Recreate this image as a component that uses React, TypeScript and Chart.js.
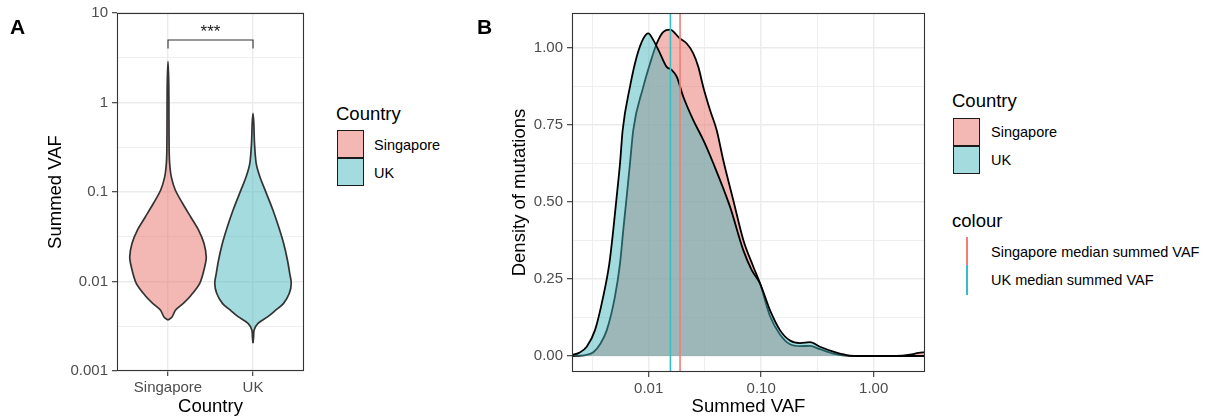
import React, { useEffect, useRef } from "react";
import { Chart, registerables } from "chart.js";

Chart.register(...registerables);

const FONT = '"Liberation Sans", Arial, Helvetica, sans-serif';

// ---------------- data ----------------
const countries = ["Singapore", "UK"];

// Panel A: violin profiles (summed VAF, relative density width 0..1)
const sgViolinVAF = [0.00372, 0.00398, 0.00481, 0.0057, 0.00676, 0.00955, 0.01462, 0.01892, 0.02673, 0.03758, 0.05297, 0.07482, 0.1052, 0.1483, 0.2094, 0.2944, 0.631, 1.585, 2.858];
const sgViolinDensity = [0, 0.1, 0.2, 0.4, 0.57, 0.83, 0.96, 1.0, 0.94, 0.8, 0.59, 0.38, 0.19, 0.085, 0.043, 0.03, 0.025, 0.02, 0];
const ukViolinVAF = [0.00204, 0.0024, 0.00287, 0.00341, 0.00405, 0.00481, 0.0057, 0.00738, 0.00955, 0.01233, 0.01738, 0.02673, 0.04093, 0.06295, 0.0966, 0.1483, 0.2094, 0.35, 0.586, 0.757];
const ukViolinDensity = [0, 0.015, 0.03, 0.13, 0.39, 0.6, 0.8, 0.95, 1.0, 0.96, 0.9, 0.8, 0.67, 0.52, 0.35, 0.18, 0.083, 0.039, 0.021, 0];

const violinTickValues = [0.001, 0.01, 0.1, 1, 10];
const violinTickLabels = ["0.001", "0.01", "0.1", "1", "10"];
const vafLimitsA = [0.001, 10];
const bracketVAF = [4, 5];
const sigLabel = "***";

// Panel B: density curves (summed VAF, density)
const sgDensVAF = [0.00208, 0.0025, 0.00275, 0.00322, 0.00372, 0.00424, 0.00501, 0.00556, 0.00594, 0.00637, 0.00682, 0.00729, 0.00895, 0.01028, 0.01178, 0.01349, 0.01545, 0.01897, 0.02178, 0.02489, 0.02761, 0.03055, 0.03508, 0.04018, 0.04603, 0.05649, 0.06934, 0.08511, 0.0975, 0.1197, 0.1469, 0.1803, 0.2213, 0.2716, 0.3334, 0.4375, 0.575, 0.794, 1.585, 2.1, 2.51, 2.86];
const sgDens = [0, 0.001, 0.003, 0.012, 0.04, 0.084, 0.193, 0.301, 0.409, 0.517, 0.626, 0.734, 0.874, 0.95, 1.015, 1.053, 1.06, 1.031, 1.015, 0.983, 0.939, 0.874, 0.799, 0.734, 0.636, 0.506, 0.377, 0.29, 0.236, 0.13, 0.07, 0.038, 0.032, 0.033, 0.022, 0.008, 0.001, 0, 0, 0.004, 0.01, 0.012];
const ukDensVAF = [0.00208, 0.0024, 0.00281, 0.00333, 0.00394, 0.00447, 0.00484, 0.00519, 0.00556, 0.00587, 0.00681, 0.00782, 0.00895, 0.00991, 0.011, 0.0126, 0.01445, 0.016, 0.01774, 0.0203, 0.0249, 0.0306, 0.0375, 0.0528, 0.0693, 0.0824, 0.0975, 0.1197, 0.1469, 0.1803, 0.2213, 0.2716, 0.3334, 0.4375, 0.575, 0.794, 2.86];
const ukDens = [0.003, 0.01, 0.03, 0.084, 0.193, 0.301, 0.409, 0.517, 0.626, 0.734, 0.874, 0.972, 1.031, 1.048, 1.026, 0.983, 0.939, 0.929, 0.907, 0.842, 0.766, 0.701, 0.626, 0.485, 0.344, 0.279, 0.236, 0.149, 0.084, 0.05, 0.042, 0.045, 0.03, 0.014, 0.003, 0, 0];

const medianVAF = [0.019, 0.0156];
const medianLabels = ["Singapore median summed VAF", "UK median summed VAF"];

const densityXTickValues = [0.01, 0.1, 1];
const densityXTickLabels = ["0.01", "0.10", "1.00"];
const densityYTickValues = [0, 0.25, 0.5, 0.75, 1];
const densityYTickLabels = ["0.00", "0.25", "0.50", "0.75", "1.00"];
const vafLimitsB = [0.00208, 2.86];
const densityLimits = [-0.052, 1.114];

// ---------------- styles ----------------
const SG_FILL = "rgba(232,114,106,0.5)";
const UK_FILL = "rgba(72,184,190,0.5)";
const SG_LINE = "#F07F76";
const UK_LINE = "#35BEC3";
const VIOLIN_HALF = 0.45;

const near = (a: number, b: number) => Math.abs(a - b) <= 1e-9 * Math.max(1, Math.abs(b));
const isMajor = (v: number, majors: number[]) => majors.some((m) => near(v, m));

function logTicksWithMinor(majors: number[], lim: number[]) {
  const step = Math.sqrt(majors[1] / majors[0]);
  const out: number[] = [majors[0] / step];
  majors.forEach((m, i) => {
    out.push(m);
    out.push(i < majors.length - 1 ? Math.sqrt(m * majors[i + 1]) : m * step);
  });
  return out.filter((v) => v >= lim[0] * (1 - 1e-9) && v <= lim[1] * (1 + 1e-9));
}
function linTicksWithMinor(majors: number[], lim: number[]) {
  const half = (majors[1] - majors[0]) / 2;
  const out: number[] = [majors[0] - half];
  majors.forEach((m) => {
    out.push(m);
    out.push(m + half);
  });
  return out.filter((v) => v >= lim[0] - 1e-9 && v <= lim[1] + 1e-9);
}

function gridFor(majors: number[]) {
  return {
    color: "#EBEBEB",
    lineWidth: (c: any) => (c.tick && isMajor(c.tick.value, majors) ? 1.4 : 0.8),
    tickColor: (c: any) => (c.tick && isMajor(c.tick.value, majors) ? "#333333" : "rgba(0,0,0,0)"),
    tickWidth: 1.1,
    tickLength: 5,
    drawTicks: true,
  };
}

function labelFor(majors: number[], labels: string[]) {
  return (v: any) => {
    const i = majors.findIndex((m) => near(Number(v), m));
    return i >= 0 ? labels[i] : "";
  };
}

function violinPolygon(center: number, vaf: number[], dens: number[]) {
  const right = vaf.map((v, i) => ({ x: center + dens[i] * VIOLIN_HALF, y: v }));
  const left = vaf.map((v, i) => ({ x: center - dens[i] * VIOLIN_HALF, y: v })).reverse();
  return [...right, ...left.slice(1)];
}

const panelBorder = {
  id: "panelBorder",
  afterDatasetsDraw(chart: any) {
    const { ctx, chartArea: a } = chart;
    ctx.save();
    ctx.strokeStyle = "#333333";
    ctx.lineWidth = 1.1;
    ctx.strokeRect(a.left + 0.5, a.top + 0.5, a.right - a.left - 1, a.bottom - a.top - 1);
    ctx.restore();
  },
};

const sigText = {
  id: "sigText",
  afterDatasetsDraw(chart: any) {
    const { ctx, scales } = chart;
    const px = scales.x.getPixelForValue(1.5);
    const py = scales.y.getPixelForValue(bracketVAF[1]);
    ctx.save();
    ctx.font = `17px ${FONT}`;
    ctx.fillStyle = "#1A1A1A";
    ctx.textAlign = "center";
    ctx.textBaseline = "alphabetic";
    ctx.fillText(sigLabel, px, py - 3);
    ctx.restore();
  },
};

const tickFont = { family: FONT, size: 15 };
const titleFont = { family: FONT, size: 18.5 };

export default function App() {
  const refA = useRef<HTMLCanvasElement>(null);
  const refB = useRef<HTMLCanvasElement>(null);

  useEffect(() => {
    const majorsA = violinTickValues;
    const chartA = new Chart(refA.current as HTMLCanvasElement, {
      type: "line",
      data: {
        datasets: [
          {
            label: "bracket",
            data: [
              { x: 1, y: bracketVAF[0] },
              { x: 1, y: bracketVAF[1] },
              { x: 2, y: bracketVAF[1] },
              { x: 2, y: bracketVAF[0] },
            ],
            borderColor: "#333333",
            borderWidth: 1.1,
            pointRadius: 0,
            fill: false,
            tension: 0,
          },
          {
            label: countries[1],
            data: violinPolygon(2, ukViolinVAF, ukViolinDensity),
            borderColor: "#333333",
            borderWidth: 1.7,
            backgroundColor: UK_FILL,
            fill: "shape",
            pointRadius: 0,
            tension: 0.3,
          },
          {
            label: countries[0],
            data: violinPolygon(1, sgViolinVAF, sgViolinDensity),
            borderColor: "#333333",
            borderWidth: 1.7,
            backgroundColor: SG_FILL,
            fill: "shape",
            pointRadius: 0,
            tension: 0.3,
          },
        ],
      } as any,
      options: {
        responsive: false,
        animation: false,
        devicePixelRatio: 1,
        events: [],
        layout: { padding: { top: 13, right: 8, bottom: 0, left: 0 } },
        plugins: { legend: { display: false }, tooltip: { enabled: false } },
        scales: {
          x: {
            type: "linear",
            min: 0.4,
            max: 2.6,
            afterBuildTicks: (s: any) => {
              s.ticks = countries.map((_, i) => ({ value: i + 1 }));
            },
            afterFit: (s: any) => {
              s.height = 47;
            },
            ticks: {
              callback: (v: any) => countries[Math.round(Number(v)) - 1] ?? "",
              color: "#4D4D4D",
              font: tickFont,
              padding: 3,
              autoSkip: false,
              maxRotation: 0,
            },
            grid: gridFor([1, 2]),
            border: { display: false },
            title: { display: true, text: "Country", color: "#000000", font: titleFont, padding: { top: 0, bottom: 0 } },
          },
          y: {
            type: "logarithmic",
            min: vafLimitsA[0],
            max: vafLimitsA[1],
            afterBuildTicks: (s: any) => {
              s.ticks = logTicksWithMinor(majorsA, vafLimitsA).map((v) => ({ value: v }));
            },
            afterFit: (s: any) => {
              s.width = 117;
            },
            ticks: {
              callback: labelFor(majorsA, violinTickLabels),
              color: "#4D4D4D",
              font: tickFont,
              padding: 4,
              autoSkip: false,
            },
            grid: gridFor(majorsA),
            border: { display: false },
            title: { display: true, text: "Summed VAF", color: "#000000", font: titleFont, padding: { top: 45, bottom: 0 } },
          },
        },
      } as any,
      plugins: [panelBorder, sigText],
    });

    const chartB = new Chart(refB.current as HTMLCanvasElement, {
      type: "line",
      data: {
        datasets: [
          {
            label: medianLabels[0],
            data: [
              { x: medianVAF[0], y: densityLimits[0] },
              { x: medianVAF[0], y: densityLimits[1] },
            ],
            borderColor: SG_LINE,
            borderWidth: 1.6,
            pointRadius: 0,
            fill: false,
            tension: 0,
          },
          {
            label: medianLabels[1],
            data: [
              { x: medianVAF[1], y: densityLimits[0] },
              { x: medianVAF[1], y: densityLimits[1] },
            ],
            borderColor: UK_LINE,
            borderWidth: 1.6,
            pointRadius: 0,
            fill: false,
            tension: 0,
          },
          {
            label: countries[1],
            data: ukDensVAF.map((v, i) => ({ x: v, y: ukDens[i] })),
            borderColor: "#000000",
            borderWidth: 1.8,
            backgroundColor: UK_FILL,
            fill: "origin",
            pointRadius: 0,
            cubicInterpolationMode: "monotone",
          },
          {
            label: countries[0],
            data: sgDensVAF.map((v, i) => ({ x: v, y: sgDens[i] })),
            borderColor: "#000000",
            borderWidth: 1.8,
            backgroundColor: SG_FILL,
            fill: "origin",
            pointRadius: 0,
            cubicInterpolationMode: "monotone",
          },
        ],
      } as any,
      options: {
        responsive: false,
        animation: false,
        devicePixelRatio: 1,
        events: [],
        layout: { padding: { top: 13, right: 5, bottom: 0, left: 0 } },
        plugins: { legend: { display: false }, tooltip: { enabled: false } },
        scales: {
          x: {
            type: "logarithmic",
            min: vafLimitsB[0],
            max: vafLimitsB[1],
            afterBuildTicks: (s: any) => {
              s.ticks = logTicksWithMinor(densityXTickValues, vafLimitsB).map((v) => ({ value: v }));
            },
            afterFit: (s: any) => {
              s.height = 46;
            },
            ticks: {
              callback: labelFor(densityXTickValues, densityXTickLabels),
              color: "#4D4D4D",
              font: tickFont,
              padding: 3,
              autoSkip: false,
              maxRotation: 0,
            },
            grid: gridFor(densityXTickValues),
            border: { display: false },
            title: { display: true, text: "Summed VAF", color: "#000000", font: titleFont, padding: { top: 0, bottom: 0 } },
          },
          y: {
            type: "linear",
            min: densityLimits[0],
            max: densityLimits[1],
            afterBuildTicks: (s: any) => {
              s.ticks = linTicksWithMinor(densityYTickValues, densityLimits).map((v) => ({ value: v }));
            },
            afterFit: (s: any) => {
              s.width = 92;
            },
            ticks: {
              callback: labelFor(densityYTickValues, densityYTickLabels),
              color: "#4D4D4D",
              font: tickFont,
              padding: 4,
              autoSkip: false,
            },
            grid: gridFor(densityYTickValues),
            border: { display: false },
            title: { display: true, text: "Density of mutations", color: "#000000", font: titleFont, padding: { top: 29, bottom: 0 } },
          },
        },
      } as any,
      plugins: [panelBorder],
    });

    return () => {
      chartA.destroy();
      chartB.destroy();
    };
  }, []);

  const abs = (s: React.CSSProperties): React.CSSProperties => ({ position: "absolute", whiteSpace: "nowrap", ...s });
  const legTitle: React.CSSProperties = { fontFamily: FONT, fontSize: 18.5, lineHeight: "22px", color: "#000" };
  const legText: React.CSSProperties = { fontFamily: FONT, fontSize: 14.5, lineHeight: "18px", color: "#000" };
  const box = (fill: string): React.CSSProperties => ({
    width: 27,
    height: 28,
    boxSizing: "border-box",
    border: "1.5px solid #1A1A1A",
    background: fill,
  });

  return (
    <div style={{ position: "absolute", left: 0, top: 0, width: 1212, height: 418, background: "#FFFFFF", overflow: "hidden" }}>
      <canvas ref={refA} width={312} height={418} style={abs({ left: 0, top: 0, width: 312, height: 418 })} />
      <canvas ref={refB} width={450} height={418} style={abs({ left: 480, top: 0, width: 450, height: 418 })} />

      <div style={abs({ left: 10, top: 15, fontFamily: FONT, fontWeight: 700, fontSize: 21, lineHeight: "24px" })}>A</div>
      <div style={abs({ left: 477, top: 15, fontFamily: FONT, fontWeight: 700, fontSize: 21, lineHeight: "24px" })}>B</div>

      {/* Legend A */}
      <div style={abs({ left: 336, top: 103, ...legTitle })}>Country</div>
      <div style={abs({ left: 337, top: 130, ...box(SG_FILL) })} />
      <div style={abs({ left: 337, top: 158, ...box(UK_FILL) })} />
      <div style={abs({ left: 374, top: 136, ...legText })}>{countries[0]}</div>
      <div style={abs({ left: 374, top: 164, ...legText })}>{countries[1]}</div>

      {/* Legend B */}
      <div style={abs({ left: 952, top: 90, ...legTitle })}>Country</div>
      <div style={abs({ left: 953, top: 118, ...box(SG_FILL) })} />
      <div style={abs({ left: 953, top: 146, ...box(UK_FILL) })} />
      <div style={abs({ left: 991, top: 123, ...legText })}>{countries[0]}</div>
      <div style={abs({ left: 991, top: 151, ...legText })}>{countries[1]}</div>

      <div style={abs({ left: 952, top: 210, ...legTitle })}>colour</div>
      <div style={abs({ left: 966, top: 237, width: 2, height: 28, background: SG_LINE })} />
      <div style={abs({ left: 966, top: 265, width: 2, height: 30, background: UK_LINE })} />
      <div style={abs({ left: 991, top: 243, ...legText })}>{medianLabels[0]}</div>
      <div style={abs({ left: 991, top: 271, ...legText })}>{medianLabels[1]}</div>
    </div>
  );
}
